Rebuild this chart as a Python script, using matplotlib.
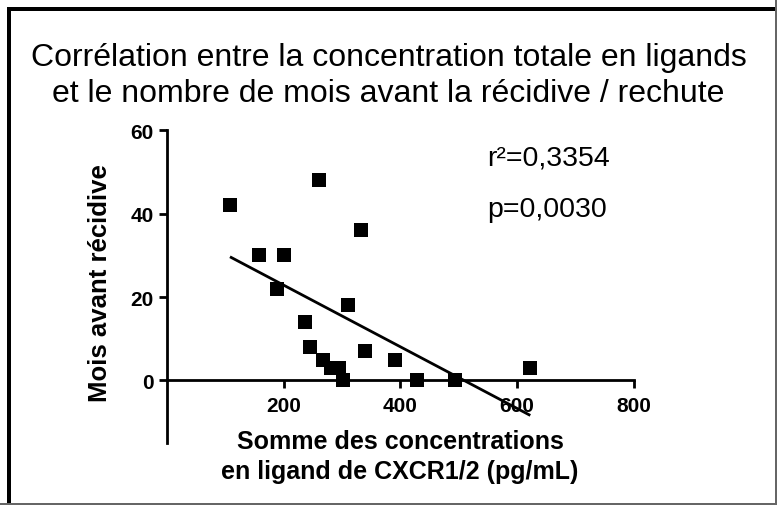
import numpy as np
import matplotlib
matplotlib.use("Agg")
import matplotlib.pyplot as plt
from matplotlib.patches import Rectangle

plt.rcParams['font.family'] = ['Liberation Sans', 'DejaVu Sans']

# Data
ligand_sum = [108, 157, 200, 189, 261, 332, 311, 237, 245, 268, 282, 295, 301, 340, 391, 428, 494, 623]
months = [42, 30, 30, 22, 48, 36, 18, 14, 8, 5, 3, 3, 0, 7, 5, 0, 0, 3]
x_ticks = [200, 400, 600, 800]
y_ticks = [0, 20, 40, 60]
r2_text = "r²=0,3354"
p_text = "p=0,0030"
title_lines = ["Corrélation entre la concentration totale en ligands",
               "et le nombre de mois avant la récidive / rechute"]
xlabel_lines = ["Somme des concentrations", "en ligand de CXCR1/2 (pg/mL)"]
ylabel = "Mois avant récidive"

W, H = 777, 506
fig = plt.figure(figsize=(W / 100, H / 100), dpi=100)

def fx(px):
    return px / W

def fy(py):
    return 1 - py / H

ax = fig.add_axes([fx(167), fy(444), fx(633.5) - fx(167), fy(131.3) - fy(444)])
ax.set_xlim(0, 800)
ax.set_ylim(-15, 60)

x = np.array(ligand_sum, dtype=float)
y = np.array(months, dtype=float)
ax.plot(x, y, linestyle='none', marker='s', markersize=9.6, color='black', markeredgewidth=0)

slope, intercept = np.polyfit(x, y, 1)
xl = np.array([x.min(), x.max()])
ax.plot(xl, slope * xl + intercept, color='black', linewidth=2.0, solid_capstyle='butt')

for s in ['top', 'right']:
    ax.spines[s].set_visible(False)
ax.spines['bottom'].set_position(('data', 0))
ax.spines['bottom'].set_bounds(0, 800)
ax.spines['left'].set_linewidth(2.0)
ax.spines['bottom'].set_linewidth(2.0)

ax.set_xticks(x_ticks)
ax.set_yticks(y_ticks)
ax.tick_params(axis='both', direction='out', length=6, width=2, labelsize=15)
ax.tick_params(axis='x', pad=5.5)
ax.tick_params(axis='y', pad=3.5)
for lab in ax.get_xticklabels() + ax.get_yticklabels():
    lab.set_fontweight('bold')

ax.text(549, 51.7, r2_text, fontsize=20.5, ha='left', va='baseline')
ax.text(549, 39.4, p_text, fontsize=20.5, ha='left', va='baseline')

fig.text(0.5, fy(66), title_lines[0], ha='center', va='baseline', fontsize=23)
fig.text(0.5, fy(101.5), title_lines[1], ha='center', va='baseline', fontsize=23)
fig.text(fx(400), fy(449), xlabel_lines[0], ha='center', va='baseline', fontsize=18,
         fontweight='bold')
fig.text(fx(400), fy(479), xlabel_lines[1], ha='center', va='baseline', fontsize=18,
         fontweight='bold')
fig.text(fx(100), fy(283), ylabel, ha='center', va='center', fontsize=18.5,
         fontweight='bold', rotation=90)

# frame
fig.add_artist(Rectangle((fx(7), fy(12)), fx(777) - fx(7), fy(8) - fy(12),
                         transform=fig.transFigure, color='black', lw=0))
fig.add_artist(Rectangle((fx(7), fy(506)), fx(11) - fx(7), fy(8) - fy(506),
                         transform=fig.transFigure, color='black', lw=0))
fig.add_artist(Rectangle((fx(0), fy(506)), 1, fy(504) - fy(506),
                         transform=fig.transFigure, color='#666666', lw=0))
fig.add_artist(Rectangle((fx(775), 0), fx(2), 1,
                         transform=fig.transFigure, color='#666666', lw=0))

fig.savefig('out.png', dpi=100)
